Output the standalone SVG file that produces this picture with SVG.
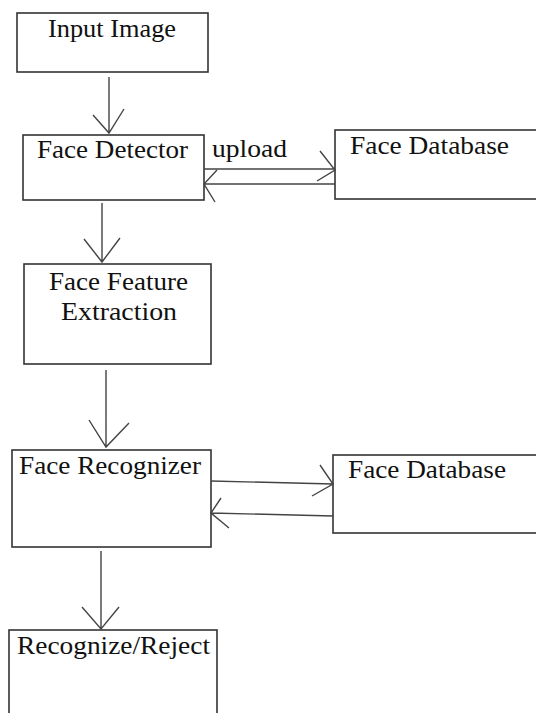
<svg xmlns="http://www.w3.org/2000/svg" width="536" height="713" viewBox="0 0 536 713">
<style>
.box{fill:#fff;stroke:#333;stroke-width:1.6}
.lbl{font-family:'Liberation Serif','DejaVu Serif',serif;font-size:25px;fill:#111}
.ln{fill:none;stroke:#444;stroke-width:1.4}
</style>
<rect width="536" height="713" fill="#fff"/>
<g id="input">
<rect class="box" x="17" y="13" width="191" height="59"/>
<text class="lbl" font-family="Liberation Serif, DejaVu Serif, serif" x="48" y="37" textLength="128" lengthAdjust="spacingAndGlyphs">Input Image</text>
</g>
<g id="detector">
<rect class="box" x="23" y="135" width="181" height="65"/>
<text class="lbl" x="37" y="158" textLength="151" lengthAdjust="spacingAndGlyphs">Face Detector</text>
</g>
<g id="db1">
<rect class="box" x="335" y="130" width="205" height="69"/>
<text class="lbl" x="350" y="154" textLength="159" lengthAdjust="spacingAndGlyphs">Face Database</text>
</g>
<g id="feature">
<rect class="box" x="24" y="264" width="187" height="100"/>
<text class="lbl" x="49" y="290" textLength="139" lengthAdjust="spacingAndGlyphs">Face Feature</text>
<text class="lbl" x="61" y="320" textLength="116" lengthAdjust="spacingAndGlyphs">Extraction</text>
</g>
<g id="recognizer">
<rect class="box" x="12" y="450" width="199" height="97"/>
<text class="lbl" x="19" y="474" textLength="182" lengthAdjust="spacingAndGlyphs">Face Recognizer</text>
</g>
<g id="db2">
<rect class="box" x="333" y="455" width="207" height="78"/>
<text class="lbl" x="348" y="478" textLength="158" lengthAdjust="spacingAndGlyphs">Face Database</text>
</g>
<g id="reject">
<rect class="box" x="9" y="630" width="208" height="90"/>
<text class="lbl" x="17" y="654" textLength="193" lengthAdjust="spacingAndGlyphs">Recognize/Reject</text>
</g>
<g id="connectors">
<path class="ln" d="M109 77V133M93 115L109 133L124 109"/>
<path class="ln" d="M204 169H335M320 151L335 170L317 181"/>
<path class="ln" d="M335 184H204M217 170L204 184L215 202"/>
<path class="ln" d="M102 203V262M84 239L102 262L120 238"/>
<path class="ln" d="M106 370V447M89 420L106 447L129 423"/>
<path class="ln" d="M211 481L333 484M320 465L333 484L312 496"/>
<path class="ln" d="M333 516L211 513M221 498L211 513L229 528"/>
<path class="ln" d="M101 551V629M82 607L101 629L119 607"/>
<text class="lbl" x="212" y="157" textLength="75" lengthAdjust="spacingAndGlyphs">upload</text>
</g>
</svg>
